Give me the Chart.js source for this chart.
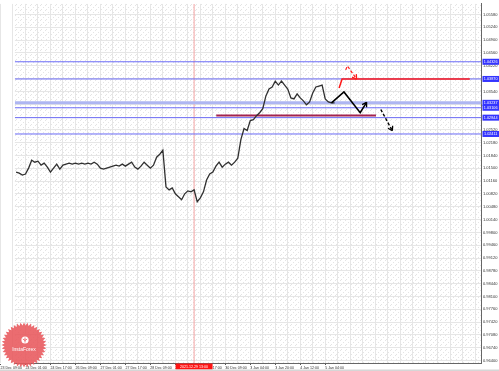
<!DOCTYPE html>
<html>
<head>
<meta charset="utf-8">
<script src="https://cdn.jsdelivr.net/npm/chart.js@4.4.1/dist/chart.umd.min.js"></script>
<style>
html, body { margin: 0; padding: 0; background: #fff; }
canvas { display: block; }
</style>
</head>
<body>
<canvas id="chart" width="499" height="371"></canvas>
<script>
// price closes, one value every 2 hourly bars starting at bar -6
var firstBar = -6;
var barStep = 2;
var priceClose = [
  1.01401, 1.01374, 1.01322, 1.01348, 1.01506, 1.01716, 1.01663, 1.01689, 1.01584, 1.01637,
  1.01532, 1.01401, 1.01506, 1.01611, 1.01479, 1.01584, 1.01611, 1.01637, 1.01611, 1.01637,
  1.01611, 1.01637, 1.01611, 1.01637, 1.01611, 1.01663, 1.01611, 1.01506, 1.01479, 1.01506,
  1.01532, 1.01558, 1.01584, 1.01558, 1.01611, 1.01558, 1.01611, 1.01663, 1.01532, 1.01479,
  1.01558, 1.01663, 1.01584, 1.01506, 1.01584, 1.01794, 1.01873, 1.01978, 1.01007, 1.00929,
  1.00981, 1.00824, 1.00745, 1.00666, 1.00824, 1.00902, 1.00876, 1.00929, 1.00614, 1.00719,
  1.00876, 1.01191, 1.01348, 1.01401, 1.01558, 1.01663, 1.01532, 1.01611, 1.01663, 1.01584,
  1.01663, 1.01768, 1.02267, 1.02555, 1.02503, 1.02765, 1.02791, 1.02896, 1.02975, 1.03080,
  1.03421, 1.03604, 1.03657, 1.03814, 1.03709, 1.03814, 1.03709, 1.03604, 1.03368, 1.03342,
  1.03473, 1.03368, 1.03290, 1.03185, 1.03263, 1.03500, 1.03657, 1.03683, 1.03709, 1.03342,
  1.03263, 1.03237, 1.03237
];

// right axis price ticks
var yTicks = [
  1.05580, 1.05240, 1.04900, 1.04560, 1.04220, 1.03880, 1.03540, 1.03200, 1.02860, 1.02520,
  1.02180, 1.01840, 1.01500, 1.01160, 1.00820, 1.00480, 1.00140, 0.99800, 0.99460, 0.99120,
  0.98780, 0.98440, 0.98100, 0.97760, 0.97420, 0.97080, 0.96740, 0.96400
];

// time axis labels (bar index -> text)
var xLabelBars = [-16, 0, 16, 32, 48, 64, 80, 96, 112, 128, 144, 160, 176, 192];
var xLabels = ['23 Dec 09:00', '24 Dec 01:00', '24 Dec 17:00', '26 Dec 09:00', '27 Dec 01:00',
  '27 Dec 17:00', '28 Dec 09:00', '29 Dec 01:00', '29 Dec 17:00', '30 Dec 09:00',
  '3 Jan 04:00', '3 Jan 20:00', '4 Jan 12:00', '5 Jan 04:00'];

// horizontal levels
var blueLevels = [1.04326, 1.03870, 1.03237, 1.03106, 1.02844, 1.02411];
var thickLevel = 1.03237;

// drawn forecast / annotations (bar index, price)
var blackBars = [196, 204, 214.4, 218.5];
var blackVals = [1.03237, 1.03526, 1.02975, 1.03250];
var blackDashBars = [227.6, 235];
var blackDashVals = [1.03061, 1.02495];
var redBars = [200.9, 202.8, 284.6];
var redVals = [1.03631, 1.03870, 1.03870];
var redDashBars = [205.1, 206.2, 212.1];
var redDashVals = [1.04111, 1.04216, 1.03867];
var maroonBars = [122.2, 224.5];
var maroonVals = [1.02904, 1.02904];

var cursorBar = 108;
var cursorLabel = '2021.12.29 13:00';

var xMin = -6.8, xMax = 292.1;
var yMin = 0.963374, yMax = 1.058607;

function seg(xs, ys, color, width, dash, arrow) {
  return {
    data: xs.map(function(x, i) { return {x: x, y: ys[i]}; }),
    borderColor: color,
    borderWidth: width,
    borderDash: dash || [],
    arrow: !!arrow,
    pointRadius: 0,
    tension: 0,
    fill: false
  };
}

var priceData = priceClose.map(function(v, i) { return {x: firstBar + i * barStep, y: v}; });

var datasets = [
  seg(blackBars, blackVals, '#000', 1.6, null, true),
  seg(blackDashBars, blackDashVals, '#000', 1.4, [3, 2], true),
  seg(redDashBars, redDashVals, '#ff1a1a', 1.2, [3, 2], true),
  seg(redBars, redVals, '#ff1a1a', 1.5),
  {data: priceData, borderColor: '#303030', borderWidth: 1.3, pointRadius: 0, tension: 0, fill: false},
  seg(maroonBars, maroonVals, '#a3234f', 2)
];
blueLevels.forEach(function(v) {
  if (v === thickLevel) datasets.push(seg([xMin, xMax], [v, v], '#aeb6f2', 3));
  else datasets.push(seg([xMin, xMax], [v, v], '#6a6af6', 1));
});
datasets.push(seg([cursorBar, cursorBar], [yMin, yMax], '#f3a3a3', 1));

var gridBars = [];
for (var b = -16; b <= 288; b += 8) gridBars.push(b);

// speckled background like the terminal screenshot
var speckle = document.createElement('canvas');
speckle.width = 5; speckle.height = 5;
(function() {
  var g = speckle.getContext('2d');
  g.fillStyle = '#fff';
  g.fillRect(0, 0, 5, 5);
  g.fillStyle = '#e4e4e4';
  g.fillRect(0, 0, 1, 1);
  g.fillRect(3, 2, 1, 1);
  g.fillRect(1, 4, 1, 1);
})();

var extras = {
  id: 'extras',
  beforeDraw: function(chart) {
    var ctx = chart.ctx, a = chart.chartArea;
    ctx.save();
    ctx.fillStyle = ctx.createPattern(speckle, 'repeat');
    ctx.fillRect(a.left, a.top, a.right - a.left, a.bottom - a.top);
    ctx.restore();
  },
  afterDatasetsDraw: function(chart) {
    var ctx = chart.ctx;
    chart.data.datasets.forEach(function(ds, i) {
      if (!ds.arrow) return;
      var pts = chart.getDatasetMeta(i).data;
      var a = pts[pts.length - 2], p = pts[pts.length - 1];
      var ang = Math.atan2(p.y - a.y, p.x - a.x);
      ctx.save();
      ctx.strokeStyle = ds.borderColor;
      ctx.lineWidth = 1.3;
      ctx.beginPath();
      [-1, 1].forEach(function(s) {
        ctx.moveTo(p.x, p.y);
        ctx.lineTo(p.x - 5 * Math.cos(ang + s * 0.55), p.y - 5 * Math.sin(ang + s * 0.55));
      });
      ctx.stroke();
      ctx.restore();
    });
  },
  afterDraw: function(chart) {
    var ctx = chart.ctx;
    var ys = chart.scales.y, xs = chart.scales.x;
    ctx.save();
    // level price boxes
    ctx.font = '3.8px "Liberation Sans"';
    ctx.textAlign = 'center';
    ctx.textBaseline = 'middle';
    blueLevels.forEach(function(v) {
      var y = ys.getPixelForValue(v);
      ctx.fillStyle = '#3434ff';
      ctx.fillRect(482.5, y - 3, 16.5, 6);
      ctx.fillStyle = '#fff';
      ctx.fillText(v.toFixed(5), 490.7, y + 0.3);
    });
    // cursor time box
    var cx = xs.getPixelForValue(cursorBar);
    ctx.fillStyle = '#ff1414';
    ctx.fillRect(cx - 18.5, 363.5, 37, 6);
    ctx.fillStyle = '#fff';
    ctx.font = '3.6px "Liberation Sans"';
    ctx.fillText(cursorLabel, cx, 366.6);
    // bottom frame
    ctx.fillStyle = '#d6d6d6';
    ctx.fillRect(0, 369.5, 499, 1.5);
    // InstaForex seal
    var sx = 24, sy = 345, n = 40;
    ctx.beginPath();
    for (var k = 0; k < n * 2; k++) {
      var r = k % 2 ? 19.5 : 22.5;
      var t = k * Math.PI / n;
      ctx.lineTo(sx + r * Math.cos(t), sy + r * Math.sin(t));
    }
    ctx.closePath();
    ctx.fillStyle = 'rgba(232,88,92,0.88)';
    ctx.fill();
    ctx.fillStyle = '#fff';
    ctx.beginPath();
    ctx.arc(sx + 1, sy - 5, 3.6, 0, Math.PI * 2);
    ctx.fill();
    ctx.strokeStyle = 'rgba(232,88,92,1)';
    ctx.lineWidth = 0.8;
    ctx.beginPath();
    ctx.moveTo(sx + 1, sy - 7.5); ctx.lineTo(sx + 1, sy - 2.5);
    ctx.moveTo(sx - 1.2, sy - 6); ctx.lineTo(sx + 1, sy - 4.5); ctx.lineTo(sx + 3.2, sy - 6);
    ctx.stroke();
    ctx.fillStyle = '#fff';
    ctx.font = '5px "Liberation Sans"';
    ctx.fillText('InstaForex', sx, sy + 4.5);
    ctx.restore();
  }
};

new Chart(document.getElementById('chart'), {
  type: 'line',
  data: {datasets: datasets},
  options: {
    responsive: false,
    animation: false,
    layout: {padding: 0},
    plugins: {legend: {display: false}, tooltip: {enabled: false}},
    scales: {
      x: {
        type: 'linear',
        min: xMin,
        max: xMax,
        bounds: 'data',
        afterFit: function(s) { s.height = 8; },
        afterBuildTicks: function(s) { s.ticks = gridBars.map(function(v) { return {value: v}; }); },
        ticks: {
          autoSkip: false,
          maxRotation: 0,
          align: 'start',
          padding: 0.5,
          color: '#333',
          font: {family: 'Liberation Sans', size: 3.6},
          callback: function(v) {
            var i = xLabelBars.indexOf(v);
            return i < 0 ? '' : xLabels[i];
          }
        },
        grid: {
          color: '#e6e6e6',
          tickLength: 2,
          tickColor: function(c) {
            return c.tick && xLabelBars.indexOf(c.tick.value) >= 0 ? '#555' : 'rgba(0,0,0,0)';
          }
        },
        border: {color: '#666'}
      },
      y: {
        position: 'right',
        min: yMin,
        max: yMax,
        bounds: 'data',
        afterFit: function(s) { s.width = 17.5; },
        afterBuildTicks: function(s) { s.ticks = yTicks.map(function(v) { return {value: v}; }); },
        ticks: {
          padding: 1.5,
          color: '#333',
          font: {family: 'Liberation Sans', size: 4},
          callback: function(v) { return v.toFixed(5); }
        },
        grid: {color: '#e6e6e6', drawTicks: false},
        border: {color: '#666'}
      }
    }
  },
  plugins: [extras]
});
</script>
</body>
</html>
